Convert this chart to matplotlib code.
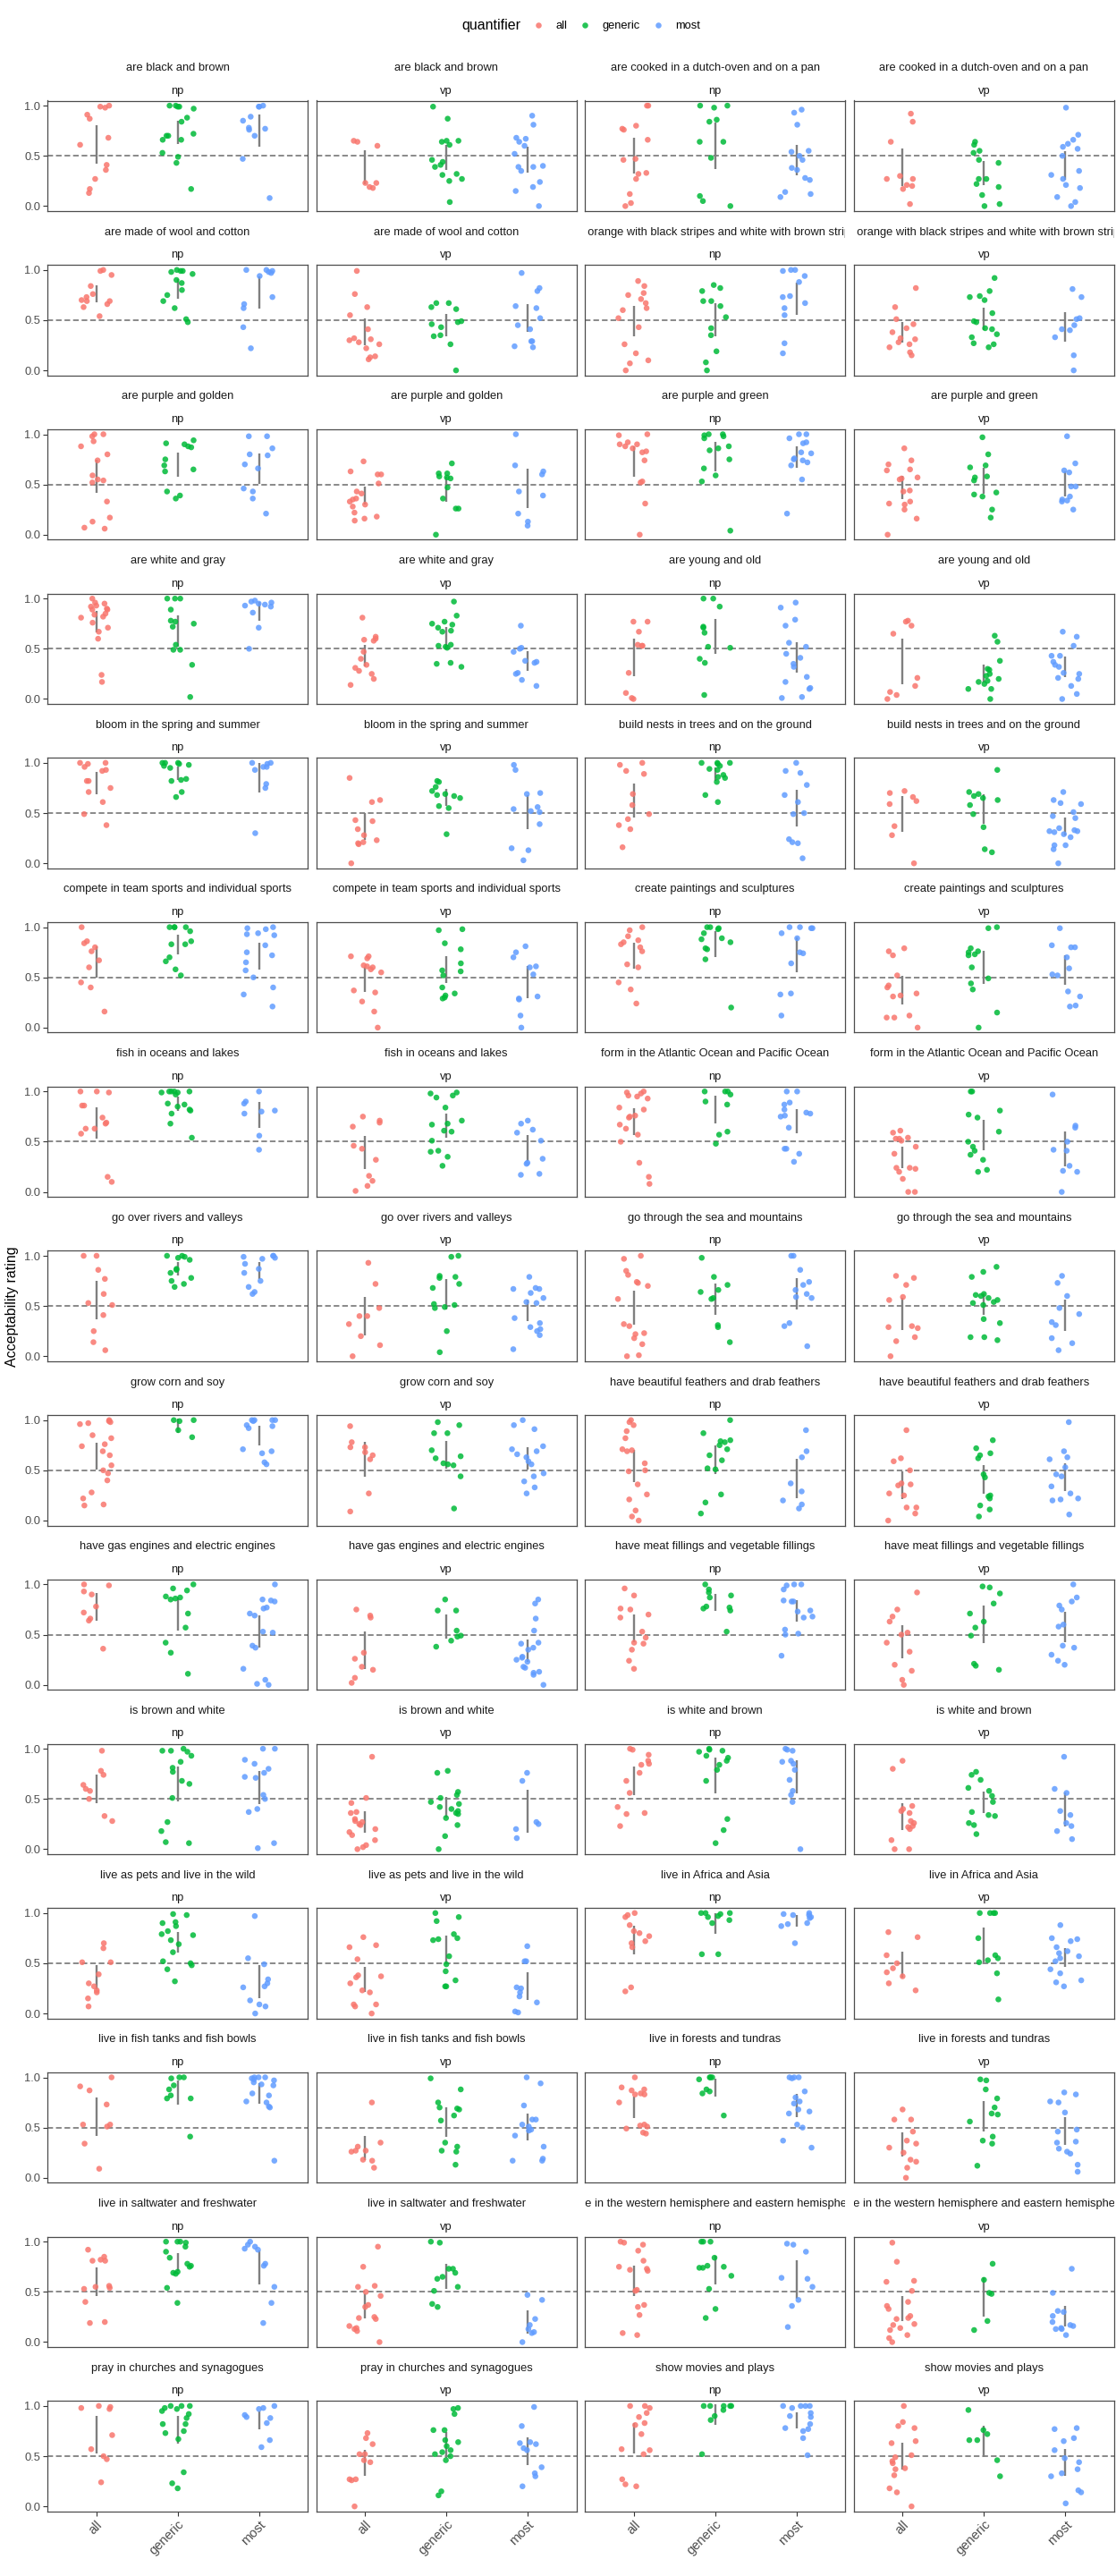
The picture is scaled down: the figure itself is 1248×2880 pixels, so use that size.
import numpy as np
import matplotlib
matplotlib.use('Agg')
import matplotlib.pyplot as plt
from matplotlib.lines import Line2D

plt.rcParams['font.family'] = ['Liberation Sans', 'DejaVu Sans']

PREDICATES = [
    'are black and brown', 'are cooked in a dutch-oven and on a pan',
    'are made of wool and cotton', 'are orange with black stripes and white with brown stripes',
    'are purple and golden', 'are purple and green',
    'are white and gray', 'are young and old',
    'bloom in the spring and summer', 'build nests in trees and on the ground',
    'compete in team sports and individual sports', 'create paintings and sculptures',
    'fish in oceans and lakes', 'form in the Atlantic Ocean and Pacific Ocean',
    'go over rivers and valleys', 'go through the sea and mountains',
    'grow corn and soy', 'have beautiful feathers and drab feathers',
    'have gas engines and electric engines', 'have meat fillings and vegetable fillings',
    'is brown and white', 'is white and brown',
    'live as pets and live in the wild', 'live in Africa and Asia',
    'live in fish tanks and fish bowls', 'live in forests and tundras',
    'live in saltwater and freshwater', 'live in the western hemisphere and eastern hemisphere',
    'pray in churches and synagogues', 'show movies and plays',
]
CONDITIONS = ['np', 'vp']
QUANTIFIERS = ['all', 'generic', 'most']
COLORS = ['#F8766D', '#00BA38', '#619CFF']

# ratings per panel (predicate x condition, np then vp)
ALL = [
    [0.99, 1.0, 0.98, 0.91, 0.87, 0.68, 0.61, 0.41, 0.36, 0.27, 0.17, 0.13],
    [0.65, 0.64, 0.60, 0.23, 0.23, 0.19, 0.18],
    [1.0, 1.0, 0.80, 0.77, 0.76, 0.66, 0.47, 0.46, 0.33, 0.32, 0.27, 0.12, 0.03, 0.0],
    [0.92, 0.84, 0.64, 0.30, 0.27, 0.27, 0.21, 0.20, 0.17, 0.02],
    [1.0, 0.99, 0.95, 0.84, 0.76, 0.73, 0.70, 0.69, 0.69, 0.66, 0.63, 0.54],
    [0.99, 0.76, 0.63, 0.55, 0.41, 0.32, 0.31, 0.30, 0.28, 0.26, 0.22, 0.14, 0.13, 0.11],
    [0.89, 0.84, 0.77, 0.75, 0.71, 0.67, 0.62, 0.60, 0.52, 0.43, 0.26, 0.17, 0.10, 0.07, 0.0],
    [0.82, 0.63, 0.51, 0.46, 0.42, 0.38, 0.32, 0.31, 0.28, 0.26, 0.23, 0.18, 0.15],
    [1.0, 1.0, 0.98, 0.93, 0.88, 0.80, 0.74, 0.59, 0.55, 0.54, 0.52, 0.33, 0.17, 0.13, 0.07, 0.06],
    [0.73, 0.63, 0.60, 0.60, 0.51, 0.43, 0.41, 0.36, 0.35, 0.33, 0.30, 0.28, 0.22, 0.18, 0.16, 0.14],
    [1.0, 0.99, 0.92, 0.90, 0.90, 0.88, 0.86, 0.83, 0.82, 0.74, 0.53, 0.52, 0.31, 0.0],
    [0.86, 0.74, 0.70, 0.65, 0.64, 0.57, 0.56, 0.55, 0.44, 0.43, 0.33, 0.31, 0.30, 0.25, 0.16, 0.0],
    [1.0, 0.96, 0.95, 0.93, 0.92, 0.90, 0.89, 0.89, 0.85, 0.84, 0.82, 0.81, 0.76, 0.71, 0.67, 0.60, 0.24, 0.17],
    [0.81, 0.62, 0.60, 0.59, 0.58, 0.47, 0.40, 0.34, 0.31, 0.28, 0.25, 0.20, 0.14],
    [0.77, 0.77, 0.67, 0.54, 0.53, 0.53, 0.26, 0.06, 0.01, 0.0],
    [0.78, 0.77, 0.73, 0.65, 0.21, 0.13, 0.07, 0.04, 0.0],
    [1.0, 1.0, 0.99, 0.96, 0.93, 0.92, 0.82, 0.82, 0.75, 0.71, 0.61, 0.49, 0.38],
    [0.85, 0.63, 0.61, 0.43, 0.42, 0.34, 0.28, 0.23, 0.21, 0.20, 0.19, 0.0],
    [1.0, 0.98, 0.92, 0.89, 0.69, 0.58, 0.49, 0.44, 0.38, 0.34, 0.16],
    [0.72, 0.70, 0.66, 0.62, 0.59, 0.37, 0.28, 0.0],
    [1.0, 0.86, 0.84, 0.80, 0.76, 0.67, 0.60, 0.45, 0.40, 0.16],
    [0.71, 0.71, 0.69, 0.62, 0.61, 0.60, 0.58, 0.55, 0.37, 0.35, 0.26, 0.16, 0.0],
    [1.0, 0.97, 0.91, 0.87, 0.85, 0.83, 0.80, 0.76, 0.63, 0.60, 0.45, 0.38, 0.24],
    [0.79, 0.76, 0.72, 0.52, 0.42, 0.40, 0.34, 0.32, 0.31, 0.12, 0.10, 0.10, 0.0],
    [1.0, 1.0, 0.99, 0.86, 0.86, 0.74, 0.69, 0.68, 0.63, 0.63, 0.58, 0.15, 0.10],
    [0.75, 0.71, 0.69, 0.65, 0.46, 0.43, 0.32, 0.16, 0.11, 0.06, 0.01],
    [1.0, 0.99, 0.98, 0.96, 0.95, 0.93, 0.84, 0.82, 0.76, 0.75, 0.74, 0.67, 0.63, 0.57, 0.50, 0.29, 0.15, 0.08],
    [0.61, 0.59, 0.54, 0.53, 0.53, 0.51, 0.45, 0.38, 0.24, 0.24, 0.23, 0.20, 0.13, 0.0, 0.0],
    [1.0, 1.0, 0.86, 0.77, 0.62, 0.53, 0.51, 0.41, 0.25, 0.14, 0.06],
    [0.93, 0.72, 0.48, 0.40, 0.40, 0.32, 0.20, 0.11, 0.0],
    [1.0, 0.97, 0.85, 0.81, 0.74, 0.73, 0.70, 0.57, 0.32, 0.30, 0.23, 0.22, 0.18, 0.12, 0.01, 0.0],
    [0.80, 0.78, 0.71, 0.59, 0.56, 0.30, 0.29, 0.28, 0.19, 0.15, 0.0],
    [1.0, 0.99, 0.98, 0.97, 0.96, 0.85, 0.82, 0.76, 0.74, 0.69, 0.65, 0.55, 0.50, 0.47, 0.40, 0.28, 0.22, 0.16, 0.15],
    [0.94, 0.78, 0.73, 0.73, 0.68, 0.65, 0.61, 0.27, 0.09],
    [1.0, 0.98, 0.95, 0.89, 0.82, 0.71, 0.70, 0.69, 0.57, 0.50, 0.49, 0.36, 0.26, 0.21, 0.10, 0.04, 0.0],
    [0.90, 0.62, 0.59, 0.50, 0.37, 0.36, 0.35, 0.27, 0.25, 0.13, 0.13, 0.07, 0.0],
    [1.0, 0.99, 0.93, 0.90, 0.78, 0.72, 0.66, 0.64, 0.36],
    [0.75, 0.69, 0.67, 0.32, 0.26, 0.18, 0.15, 0.07, 0.02],
    [0.96, 0.89, 0.76, 0.75, 0.70, 0.67, 0.53, 0.47, 0.42, 0.41, 0.35, 0.24, 0.16],
    [0.92, 0.75, 0.68, 0.63, 0.52, 0.50, 0.42, 0.33, 0.20, 0.14, 0.05, 0.0],
    [0.98, 0.78, 0.74, 0.64, 0.60, 0.58, 0.50, 0.33, 0.28],
    [0.92, 0.51, 0.46, 0.37, 0.36, 0.30, 0.28, 0.27, 0.25, 0.24, 0.20, 0.17, 0.14, 0.09, 0.04, 0.02, 0.0],
    [1.0, 0.99, 0.94, 0.88, 0.85, 0.84, 0.76, 0.68, 0.56, 0.42, 0.36, 0.35, 0.23],
    [0.88, 0.80, 0.43, 0.40, 0.38, 0.36, 0.28, 0.26, 0.23, 0.22, 0.20, 0.09, 0.0, 0.0],
    [0.70, 0.65, 0.51, 0.51, 0.39, 0.30, 0.27, 0.23, 0.21, 0.15, 0.07],
    [0.76, 0.68, 0.66, 0.54, 0.38, 0.37, 0.36, 0.30, 0.23, 0.21, 0.09, 0.09, 0.07, 0.0],
    [1.0, 0.98, 0.96, 0.88, 0.82, 0.80, 0.77, 0.72, 0.70, 0.66, 0.26, 0.22],
    [0.81, 0.76, 0.58, 0.50, 0.45, 0.41, 0.37, 0.30, 0.23],
    [1.0, 0.91, 0.87, 0.73, 0.53, 0.53, 0.51, 0.34, 0.09],
    [0.75, 0.35, 0.31, 0.27, 0.27, 0.26, 0.18, 0.17, 0.10],
    [1.0, 0.90, 0.88, 0.87, 0.84, 0.83, 0.83, 0.75, 0.53, 0.52, 0.51, 0.49, 0.45, 0.44],
    [0.68, 0.58, 0.58, 0.46, 0.37, 0.34, 0.30, 0.25, 0.18, 0.16, 0.10, 0.0],
    [0.92, 0.85, 0.82, 0.81, 0.81, 0.56, 0.55, 0.54, 0.53, 0.40, 0.20, 0.19],
    [0.95, 0.75, 0.56, 0.55, 0.50, 0.46, 0.37, 0.35, 0.25, 0.24, 0.23, 0.16, 0.14, 0.13, 0.11, 0.0],
    [1.0, 0.99, 0.97, 0.91, 0.81, 0.75, 0.73, 0.72, 0.71, 0.52, 0.51, 0.37, 0.35, 0.27, 0.09, 0.07],
    [0.99, 0.80, 0.61, 0.60, 0.51, 0.40, 0.36, 0.33, 0.26, 0.24, 0.23, 0.18, 0.17, 0.14, 0.12, 0.07, 0.04, 0.0],
    [1.0, 0.99, 0.98, 0.97, 0.71, 0.57, 0.50, 0.47, 0.24],
    [0.73, 0.68, 0.62, 0.52, 0.52, 0.46, 0.44, 0.27, 0.27, 0.26, 0.0],
    [1.0, 1.0, 0.98, 0.93, 0.89, 0.83, 0.81, 0.72, 0.57, 0.56, 0.52, 0.27, 0.22, 0.20],
    [1.0, 0.84, 0.80, 0.78, 0.65, 0.63, 0.51, 0.49, 0.45, 0.43, 0.38, 0.37, 0.31, 0.18, 0.14, 0.0],
]

GENERIC = [
    [1.0, 1.0, 0.99, 0.99, 0.97, 0.88, 0.84, 0.72, 0.70, 0.70, 0.66, 0.66, 0.53, 0.49, 0.43, 0.17],
    [0.99, 0.87, 0.65, 0.65, 0.64, 0.61, 0.46, 0.44, 0.41, 0.39, 0.32, 0.31, 0.27, 0.25, 0.04],
    [1.0, 1.0, 0.98, 0.86, 0.84, 0.64, 0.64, 0.48, 0.10, 0.05, 0.0],
    [0.64, 0.61, 0.55, 0.53, 0.46, 0.43, 0.27, 0.27, 0.22, 0.19, 0.11, 0.02, 0.0],
    [1.0, 0.99, 0.99, 0.98, 0.96, 0.90, 0.87, 0.80, 0.75, 0.69, 0.62, 0.51, 0.48],
    [0.67, 0.67, 0.63, 0.61, 0.49, 0.48, 0.46, 0.43, 0.35, 0.34, 0.26, 0.0],
    [0.85, 0.82, 0.79, 0.69, 0.69, 0.64, 0.53, 0.42, 0.35, 0.19, 0.08, 0.0],
    [0.92, 0.79, 0.74, 0.73, 0.70, 0.57, 0.49, 0.48, 0.42, 0.41, 0.36, 0.33, 0.27, 0.26, 0.23],
    [0.94, 0.91, 0.90, 0.88, 0.87, 0.75, 0.69, 0.65, 0.63, 0.43, 0.39, 0.36],
    [0.71, 0.61, 0.61, 0.58, 0.57, 0.56, 0.47, 0.36, 0.26, 0.26, 0.0],
    [1.0, 1.0, 0.99, 0.98, 0.96, 0.88, 0.86, 0.84, 0.75, 0.66, 0.59, 0.53, 0.04],
    [0.97, 0.80, 0.69, 0.67, 0.58, 0.57, 0.54, 0.42, 0.40, 0.38, 0.25, 0.17],
    [1.0, 1.0, 1.0, 0.89, 0.78, 0.77, 0.75, 0.72, 0.54, 0.49, 0.49, 0.34, 0.02],
    [0.97, 0.83, 0.77, 0.75, 0.74, 0.71, 0.68, 0.67, 0.54, 0.53, 0.52, 0.51, 0.36, 0.35, 0.32],
    [1.0, 1.0, 0.92, 0.72, 0.71, 0.66, 0.52, 0.51, 0.40, 0.36, 0.04],
    [0.63, 0.57, 0.38, 0.30, 0.29, 0.25, 0.23, 0.20, 0.18, 0.17, 0.15, 0.10, 0.10, 0.0],
    [1.0, 1.0, 1.0, 0.99, 0.98, 0.97, 0.95, 0.84, 0.83, 0.82, 0.71, 0.66],
    [0.82, 0.81, 0.76, 0.72, 0.69, 0.68, 0.67, 0.65, 0.57, 0.55, 0.29],
    [1.0, 1.0, 1.0, 0.99, 0.97, 0.94, 0.93, 0.88, 0.86, 0.85, 0.81, 0.68, 0.61],
    [0.93, 0.71, 0.69, 0.67, 0.65, 0.63, 0.58, 0.49, 0.36, 0.14, 0.11],
    [1.0, 1.0, 1.0, 1.0, 0.96, 0.86, 0.83, 0.83, 0.70, 0.66, 0.58, 0.52],
    [0.98, 0.97, 0.84, 0.78, 0.64, 0.57, 0.56, 0.52, 0.40, 0.34, 0.32, 0.30, 0.29],
    [1.0, 1.0, 0.99, 0.98, 0.94, 0.89, 0.88, 0.85, 0.79, 0.78, 0.68, 0.20],
    [1.0, 0.99, 0.79, 0.76, 0.75, 0.73, 0.72, 0.60, 0.49, 0.44, 0.38, 0.15, 0.0],
    [1.0, 1.0, 1.0, 1.0, 0.99, 0.99, 0.97, 0.88, 0.87, 0.85, 0.82, 0.81, 0.78, 0.68, 0.54],
    [0.99, 0.98, 0.96, 0.94, 0.84, 0.71, 0.68, 0.67, 0.61, 0.60, 0.51, 0.41, 0.40, 0.35, 0.26],
    [1.0, 1.0, 1.0, 0.97, 0.90, 0.87, 0.60, 0.57, 0.48],
    [1.0, 1.0, 0.81, 0.77, 0.74, 0.60, 0.50, 0.45, 0.41, 0.37, 0.32, 0.22, 0.20],
    [1.0, 1.0, 0.99, 0.98, 0.96, 0.87, 0.86, 0.83, 0.78, 0.75, 0.72, 0.69],
    [1.0, 0.99, 0.80, 0.79, 0.78, 0.72, 0.68, 0.52, 0.51, 0.49, 0.48, 0.25, 0.04],
    [0.98, 0.79, 0.71, 0.66, 0.64, 0.58, 0.57, 0.31, 0.29, 0.14],
    [0.89, 0.84, 0.79, 0.62, 0.61, 0.60, 0.58, 0.56, 0.54, 0.53, 0.51, 0.37, 0.33, 0.19, 0.19, 0.16],
    [1.0, 1.0, 0.99, 0.90, 0.83],
    [0.98, 0.95, 0.87, 0.87, 0.70, 0.64, 0.62, 0.57, 0.56, 0.55, 0.44, 0.12],
    [1.0, 0.87, 0.80, 0.79, 0.78, 0.75, 0.71, 0.65, 0.60, 0.52, 0.51, 0.26, 0.18, 0.07],
    [0.80, 0.72, 0.67, 0.65, 0.62, 0.46, 0.43, 0.25, 0.24, 0.22, 0.15, 0.11, 0.04],
    [1.0, 0.96, 0.94, 0.88, 0.87, 0.86, 0.85, 0.71, 0.57, 0.42, 0.32, 0.11],
    [0.85, 0.74, 0.74, 0.54, 0.49, 0.48, 0.44, 0.38],
    [1.0, 0.95, 0.92, 0.89, 0.87, 0.78, 0.77, 0.76, 0.74, 0.53],
    [0.98, 0.97, 0.91, 0.81, 0.71, 0.63, 0.57, 0.49, 0.21, 0.19, 0.15],
    [1.0, 0.98, 0.98, 0.97, 0.93, 0.87, 0.81, 0.77, 0.68, 0.65, 0.51, 0.27, 0.18, 0.07, 0.06],
    [0.78, 0.76, 0.57, 0.54, 0.51, 0.47, 0.45, 0.42, 0.40, 0.38, 0.36, 0.35, 0.31, 0.24, 0.13, 0.0],
    [1.0, 0.99, 0.98, 0.97, 0.93, 0.91, 0.88, 0.84, 0.79, 0.68, 0.30, 0.19, 0.06],
    [0.77, 0.74, 0.69, 0.61, 0.58, 0.53, 0.47, 0.37, 0.34, 0.33, 0.26, 0.24, 0.15],
    [0.99, 0.98, 0.91, 0.90, 0.87, 0.82, 0.79, 0.78, 0.73, 0.69, 0.61, 0.52, 0.50, 0.48, 0.44, 0.32],
    [1.0, 0.96, 0.92, 0.79, 0.75, 0.74, 0.73, 0.57, 0.49, 0.42, 0.33, 0.27, 0.27],
    [1.0, 1.0, 1.0, 0.99, 0.97, 0.96, 0.93, 0.90, 0.59, 0.59],
    [1.0, 1.0, 1.0, 1.0, 0.75, 0.58, 0.55, 0.53, 0.51, 0.40, 0.14],
    [1.0, 1.0, 0.99, 0.92, 0.88, 0.82, 0.79, 0.79, 0.41],
    [0.99, 0.88, 0.75, 0.70, 0.69, 0.68, 0.62, 0.57, 0.35, 0.31, 0.27, 0.26, 0.13],
    [1.0, 1.0, 1.0, 0.98, 0.88, 0.86, 0.84, 0.62],
    [0.98, 0.97, 0.88, 0.79, 0.70, 0.64, 0.63, 0.56, 0.41, 0.37, 0.34, 0.12],
    [1.0, 1.0, 1.0, 0.99, 0.95, 0.90, 0.84, 0.78, 0.76, 0.75, 0.70, 0.69, 0.68, 0.54, 0.39],
    [1.0, 0.99, 0.73, 0.73, 0.69, 0.65, 0.63, 0.55, 0.51, 0.38, 0.35],
    [1.0, 1.0, 1.0, 0.84, 0.76, 0.75, 0.74, 0.74, 0.66, 0.53, 0.33, 0.24],
    [0.78, 0.62, 0.49, 0.48, 0.21, 0.12],
    [1.0, 1.0, 1.0, 0.98, 0.97, 0.95, 0.92, 0.88, 0.82, 0.82, 0.75, 0.73, 0.67, 0.34, 0.23, 0.18],
    [0.98, 0.97, 0.92, 0.76, 0.76, 0.66, 0.64, 0.60, 0.56, 0.54, 0.52, 0.50, 0.46, 0.15, 0.11],
    [1.0, 1.0, 1.0, 1.0, 1.0, 0.96, 0.90, 0.86, 0.52],
    [0.96, 0.76, 0.72, 0.66, 0.66, 0.46, 0.30],
]

MOST = [
    [1.0, 0.99, 0.99, 0.89, 0.85, 0.78, 0.77, 0.76, 0.70, 0.47, 0.08],
    [0.90, 0.81, 0.68, 0.67, 0.64, 0.60, 0.52, 0.40, 0.39, 0.39, 0.35, 0.24, 0.19, 0.15, 0.0],
    [0.96, 0.93, 0.81, 0.55, 0.54, 0.50, 0.46, 0.38, 0.36, 0.28, 0.26, 0.14, 0.12, 0.09],
    [0.98, 0.71, 0.66, 0.62, 0.59, 0.57, 0.50, 0.35, 0.31, 0.27, 0.21, 0.18, 0.09, 0.04, 0.0],
    [1.0, 1.0, 0.99, 0.98, 0.97, 0.94, 0.73, 0.66, 0.62, 0.43, 0.22],
    [0.97, 0.82, 0.79, 0.64, 0.62, 0.52, 0.45, 0.41, 0.29, 0.29, 0.24, 0.23],
    [1.0, 1.0, 0.99, 0.94, 0.88, 0.74, 0.73, 0.67, 0.62, 0.55, 0.27, 0.17],
    [0.81, 0.73, 0.52, 0.51, 0.45, 0.41, 0.40, 0.33, 0.15, 0.0],
    [0.98, 0.98, 0.86, 0.80, 0.79, 0.70, 0.66, 0.46, 0.43, 0.36, 0.21],
    [1.0, 0.69, 0.63, 0.60, 0.43, 0.39, 0.21, 0.13, 0.09],
    [1.0, 1.0, 0.96, 0.92, 0.91, 0.82, 0.81, 0.76, 0.75, 0.74, 0.72, 0.69, 0.55, 0.21],
    [0.98, 0.71, 0.64, 0.62, 0.48, 0.48, 0.38, 0.35, 0.34, 0.33, 0.25],
    [0.98, 0.97, 0.96, 0.95, 0.94, 0.93, 0.92, 0.86, 0.71, 0.50],
    [0.73, 0.51, 0.50, 0.47, 0.38, 0.37, 0.36, 0.26, 0.25, 0.19, 0.13],
    [0.96, 0.91, 0.79, 0.73, 0.56, 0.52, 0.45, 0.41, 0.35, 0.32, 0.22, 0.17, 0.11, 0.10, 0.02, 0.01],
    [0.67, 0.62, 0.53, 0.43, 0.43, 0.37, 0.34, 0.32, 0.26, 0.25, 0.21, 0.20, 0.13, 0.05, 0.0],
    [1.0, 1.0, 0.99, 0.96, 0.96, 0.93, 0.79, 0.75, 0.30],
    [0.98, 0.93, 0.70, 0.69, 0.56, 0.54, 0.52, 0.51, 0.39, 0.15, 0.13, 0.03],
    [1.0, 0.92, 0.90, 0.78, 0.68, 0.61, 0.50, 0.49, 0.24, 0.21, 0.20, 0.05],
    [0.71, 0.63, 0.60, 0.59, 0.51, 0.47, 0.45, 0.35, 0.33, 0.32, 0.32, 0.31, 0.29, 0.26, 0.18, 0.18, 0.14, 0.0],
    [1.0, 0.99, 0.98, 0.94, 0.93, 0.92, 0.82, 0.75, 0.72, 0.65, 0.57, 0.50, 0.40, 0.33, 0.21],
    [0.81, 0.75, 0.70, 0.61, 0.60, 0.53, 0.31, 0.29, 0.28, 0.12, 0.0],
    [1.0, 1.0, 0.99, 0.99, 0.94, 0.89, 0.75, 0.74, 0.64, 0.34, 0.33, 0.12],
    [0.99, 0.82, 0.80, 0.80, 0.70, 0.59, 0.53, 0.52, 0.36, 0.31, 0.22, 0.21],
    [1.0, 0.90, 0.88, 0.81, 0.80, 0.78, 0.56, 0.42],
    [0.71, 0.68, 0.62, 0.59, 0.51, 0.33, 0.29, 0.28, 0.18, 0.17],
    [1.0, 1.0, 0.89, 0.87, 0.82, 0.79, 0.78, 0.76, 0.75, 0.64, 0.43, 0.43, 0.38, 0.30],
    [0.97, 0.66, 0.64, 0.50, 0.42, 0.41, 0.26, 0.21, 0.20, 0.0],
    [1.0, 1.0, 0.99, 0.98, 0.97, 0.92, 0.87, 0.83, 0.75, 0.69, 0.64, 0.62],
    [0.79, 0.68, 0.67, 0.67, 0.63, 0.58, 0.54, 0.53, 0.38, 0.33, 0.29, 0.27, 0.25, 0.21, 0.07],
    [1.0, 1.0, 0.86, 0.74, 0.71, 0.66, 0.62, 0.59, 0.58, 0.33, 0.30, 0.10],
    [0.80, 0.73, 0.60, 0.48, 0.42, 0.34, 0.31, 0.18, 0.13, 0.06],
    [1.0, 1.0, 1.0, 1.0, 0.99, 0.95, 0.94, 0.92, 0.71, 0.69, 0.67, 0.58, 0.56],
    [1.0, 0.95, 0.91, 0.74, 0.71, 0.69, 0.66, 0.63, 0.59, 0.56, 0.47, 0.44, 0.39, 0.33, 0.27],
    [0.90, 0.69, 0.63, 0.37, 0.29, 0.20, 0.16, 0.12],
    [0.98, 0.69, 0.63, 0.61, 0.53, 0.46, 0.44, 0.34, 0.27, 0.22, 0.21, 0.20, 0.06],
    [1.0, 0.85, 0.84, 0.83, 0.77, 0.76, 0.71, 0.69, 0.53, 0.52, 0.39, 0.37, 0.16, 0.05, 0.01, 0.0],
    [0.85, 0.81, 0.66, 0.54, 0.42, 0.41, 0.37, 0.35, 0.28, 0.27, 0.25, 0.23, 0.18, 0.17, 0.13, 0.12, 0.10, 0.0],
    [1.0, 1.0, 0.99, 0.95, 0.84, 0.83, 0.83, 0.74, 0.73, 0.68, 0.67, 0.55, 0.51, 0.50, 0.29],
    [1.0, 0.87, 0.83, 0.79, 0.75, 0.60, 0.58, 0.39, 0.37, 0.30, 0.24, 0.20],
    [1.0, 1.0, 0.89, 0.85, 0.80, 0.76, 0.72, 0.71, 0.54, 0.50, 0.40, 0.37, 0.06, 0.01],
    [0.76, 0.68, 0.27, 0.25, 0.20, 0.11],
    [1.0, 0.99, 0.98, 0.88, 0.87, 0.85, 0.79, 0.69, 0.58, 0.54, 0.47, 0.0],
    [0.92, 0.60, 0.56, 0.38, 0.34, 0.26, 0.23, 0.18, 0.10],
    [0.97, 0.55, 0.49, 0.34, 0.30, 0.27, 0.26, 0.13, 0.09, 0.07, 0.0],
    [0.67, 0.52, 0.52, 0.26, 0.25, 0.21, 0.17, 0.11, 0.02, 0.01],
    [1.0, 0.99, 0.98, 0.98, 0.96, 0.95, 0.90, 0.89, 0.87, 0.70],
    [0.88, 0.75, 0.74, 0.72, 0.66, 0.62, 0.60, 0.57, 0.55, 0.52, 0.44, 0.40, 0.33, 0.31, 0.27],
    [1.0, 1.0, 1.0, 0.99, 0.98, 0.97, 0.95, 0.93, 0.92, 0.84, 0.82, 0.76, 0.75, 0.71, 0.70, 0.17],
    [1.0, 0.94, 0.72, 0.58, 0.58, 0.53, 0.51, 0.48, 0.47, 0.42, 0.31, 0.19, 0.17, 0.17],
    [1.0, 1.0, 1.0, 0.99, 0.86, 0.80, 0.76, 0.74, 0.68, 0.66, 0.64, 0.53, 0.50, 0.37, 0.30],
    [0.85, 0.83, 0.76, 0.75, 0.65, 0.48, 0.46, 0.36, 0.35, 0.29, 0.26, 0.24, 0.13, 0.06],
    [1.0, 0.97, 0.95, 0.93, 0.92, 0.78, 0.76, 0.55, 0.39, 0.19],
    [0.47, 0.42, 0.23, 0.17, 0.13, 0.10, 0.09, 0.0],
    [0.98, 0.97, 0.90, 0.64, 0.63, 0.55, 0.42, 0.36, 0.15],
    [0.73, 0.49, 0.31, 0.30, 0.26, 0.20, 0.17, 0.16, 0.14, 0.13, 0.13, 0.07],
    [1.0, 0.98, 0.97, 0.91, 0.89, 0.88, 0.83, 0.66, 0.59],
    [0.99, 0.80, 0.64, 0.63, 0.62, 0.58, 0.56, 0.39, 0.33, 0.30, 0.20],
    [1.0, 1.0, 1.0, 1.0, 0.98, 0.93, 0.90, 0.89, 0.82, 0.78, 0.77, 0.75, 0.68, 0.51],
    [0.78, 0.77, 0.68, 0.65, 0.56, 0.48, 0.44, 0.37, 0.33, 0.30, 0.16, 0.14, 0.03],
]

W, H = 1248, 2880
fig = plt.figure(figsize=(W / 100, H / 100), dpi=100)

# panel geometry in pixels
left0, pw, gap = 53, 291.1, 9.5
top0, ph, pitch = 112.5, 123.5, 183.7
ncol = 4
nrow = len(ALL) // ncol

rng = np.random.default_rng(7)  # horizontal jitter only

for i in range(len(ALL)):
    row, col = divmod(i, ncol)
    x0 = left0 + col * (pw + gap)
    y0 = top0 + row * pitch
    ax = fig.add_axes([x0 / W, 1 - (y0 + ph) / H, pw / W, ph / H])

    for q, (vals, color) in enumerate(zip([ALL[i], GENERIC[i], MOST[i]], COLORS)):
        v = np.asarray(vals)
        xs = q + 1 + rng.uniform(-0.2, 0.2, len(v))
        ax.scatter(xs, v, s=22, color=color, alpha=0.85, edgecolors='none', zorder=3)
        m = v.mean()
        se = v.std(ddof=1) / np.sqrt(len(v))
        ax.vlines(q + 1, m - 1.96 * se, m + 1.96 * se, color='#7f7f7f', lw=1.7, zorder=2)

    ax.axhline(0.5, color='#808080', ls=(0, (3.5, 1.8)), lw=1.3, zorder=1)
    ax.set_xlim(0.4, 3.6)
    ax.set_ylim(-0.05, 1.05)
    for sp in ax.spines.values():
        sp.set_color('#4d4d4d')
        sp.set_linewidth(0.9)
    ax.set_xticks([1, 2, 3])
    ax.set_yticks([0, 0.5, 1.0])
    ax.tick_params(colors='#333333', labelcolor='#4d4d4d', labelsize=9.3,
                   length=3.5, width=0.8, pad=2)
    if col == 0:
        ax.set_yticklabels(['0.0', '0.5', '1.0'])
    else:
        ax.tick_params(axis='y', length=0, labelleft=False)
    if row == nrow - 1:
        ax.set_xticklabels(QUANTIFIERS, rotation=45, ha='right', va='top',
                           rotation_mode='anchor', fontsize=10.5)
    else:
        ax.tick_params(axis='x', length=0, labelbottom=False)

    # two-line strip above each panel, clipped to panel width
    sax = fig.add_axes([x0 / W, 1 - y0 / H, pw / W, 50 / H])
    sax.axis('off')
    sax.text(0.5, 36.5 / 50, PREDICATES[i // 2], ha='center', va='center',
             fontsize=9.3, color='#1a1a1a', clip_on=True, transform=sax.transAxes)
    sax.text(0.5, 11 / 50, CONDITIONS[i % 2], ha='center', va='center',
             fontsize=9.3, color='#1a1a1a', clip_on=True, transform=sax.transAxes)

fig.text(14 / W, 1 - 1461 / H, 'Acceptability rating', rotation=90,
         ha='center', va='center', fontsize=11.5)

handles = [Line2D([], [], ls='', marker='o', ms=4.7, color=c, alpha=0.85, mec='none')
           for c in COLORS]
fig.legend(handles, QUANTIFIERS, loc='center left', bbox_to_anchor=(595.5 / W, 1 - 29 / H),
           ncol=3, frameon=False, fontsize=9.3, handlelength=1.0, handletextpad=1.0,
           columnspacing=1.05, borderpad=0, borderaxespad=0)
fig.text(516 / W, 1 - 29 / H, 'quantifier', ha='left', va='center', fontsize=11.5)

fig.savefig('out.png', dpi=100)
